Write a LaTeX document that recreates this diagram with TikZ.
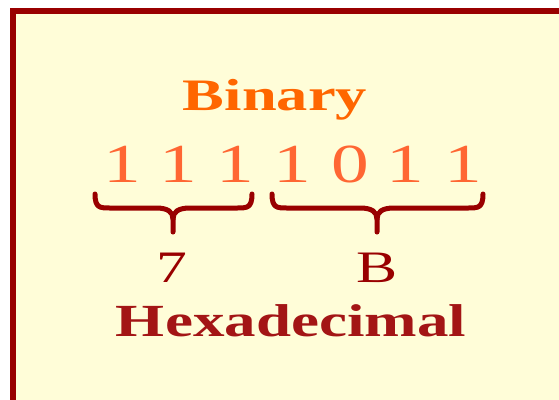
\documentclass[tikz,border=0pt]{standalone}
\usepackage{fontspec}
\setmainfont{Liberation Serif}
\usepackage{graphicx}
\definecolor{framered}{HTML}{990000}
\definecolor{paper}{HTML}{FFFDD8}
\definecolor{binorange}{HTML}{FF6600}
\definecolor{digitorange}{HTML}{FF6633}
\definecolor{hexred}{HTML}{A31515}
\tikzset{
  lbl/.style={inner sep=0pt, anchor=base},
  bracepath/.style={draw=framered, line width=5pt, line cap=round, line join=round},
}
\newcommand{\wide}[1]{\scalebox{1.37}[1]{#1}}
\begin{document}
\begin{tikzpicture}[x=1pt,y=-1pt]
\useasboundingbox (0,0) rectangle (559,399);
\clip (0,0) rectangle (559,399);
\fill[white] (0,0) rectangle (559,399);
\draw[framered, fill=paper, line width=6.5pt] (13,11) rectangle (620,403.5);
% titles
\node[lbl, text=binorange] (bin) at (275,110) {\fontsize{45}{50}\selectfont\bfseries\scalebox{1.39}[1]{Binary}};
% digits
\foreach \x/\d [count=\i] in {122/1,178/1,235/1,292/1,350/0,405/1,463/1}
  \node[lbl, text=digitorange] (d\i) at (\x,182) {\fontsize{55}{60}\selectfont\wide{\d}};
% braces
\coordinate (b1l) at (95,194);
\coordinate (b1r) at (252,194);
\coordinate (b1t) at (173,232);
\coordinate (b2l) at (272,194);
\coordinate (b2r) at (483,194);
\coordinate (b2t) at (377,232);
\draw[bracepath] (b1l) .. controls (95,208) and (100,208) .. (110,208) -- (156,208)
  .. controls (168,208) and (173,212) .. (173,219) -- (b1t);
\draw[bracepath] (b1r) .. controls (252,208) and (247,208) .. (237,208) -- (190,208)
  .. controls (178,208) and (173,212) .. (173,219);
\draw[bracepath] (b2l) .. controls (272,208) and (277,208) .. (287,208) -- (360,208)
  .. controls (372,208) and (377,212) .. (377,219) -- (b2t);
\draw[bracepath] (b2r) .. controls (483,208) and (478,208) .. (468,208) -- (394,208)
  .. controls (382,208) and (377,212) .. (377,219);
% hex digits
\node[lbl, text=framered] (h7) at (172,282) {\fontsize{45}{50}\selectfont\wide{7}};
\node[lbl, text=framered] (hB) at (377,282) {\fontsize{45}{50}\selectfont\wide{B}};
\node[lbl, text=hexred] (hex) at (291,336) {\fontsize{46}{50}\selectfont\bfseries\wide{Hexadecimal}};
\end{tikzpicture}
\end{document}
